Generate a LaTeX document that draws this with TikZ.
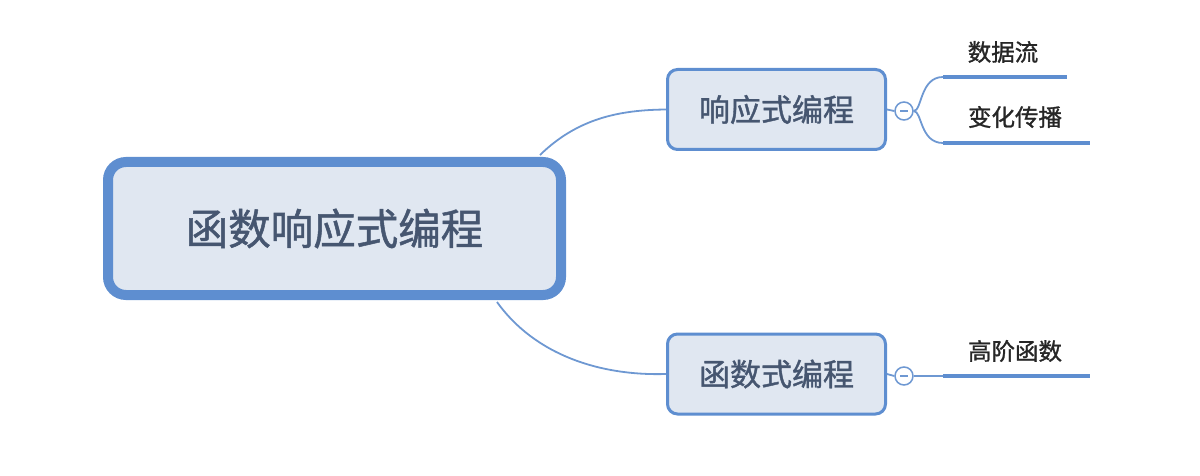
\documentclass[tikz,border=0pt]{standalone}
\usepackage{fontspec}
\newfontfamily\cjk[FakeBold=1.2]{Noto Sans CJK SC}
\definecolor{bord}{HTML}{5E8ED0}
\definecolor{fillc}{HTML}{E0E7F1}
\definecolor{txt}{HTML}{465670}
\definecolor{lnk}{HTML}{6E98D2}
\begin{document}
\begin{tikzpicture}[x=1pt,y=-1pt,
  mainbox/.style={draw=bord,fill=fillc,line width=10pt,rounded corners=18pt,minimum width=453pt,minimum height=133pt,inner sep=0pt,text=txt,font=\cjk\fontsize{42.5}{46}\selectfont},
  subbox/.style={draw=bord,fill=fillc,line width=3pt,rounded corners=10pt,minimum width=218pt,minimum height=80pt,inner sep=0pt,text=txt,font=\cjk\fontsize{31}{34}\selectfont},
  fold/.style={circle,draw=lnk,fill=white,line width=1.5pt,minimum size=18pt,inner sep=0pt},
  link/.style={draw=lnk,line width=1.8pt},
  leaf/.style={draw=bord,line width=4pt},
  leaftxt/.style={text=black!85,font=\cjk\fontsize{23.5}{26}\selectfont,inner sep=0pt}]
\useasboundingbox (0,0) rectangle (1200,476);
\node[mainbox] (main) at (334.5,228.5) {函数响应式编程};
\node[subbox] (n1) at (776.5,109.5) {响应式编程};
\node[subbox] (n2) at (776.5,374) {函数式编程};
\coordinate (m1) at (540,155);
\coordinate (m2) at (497,302);
\draw[link] (m1) .. controls (578,118) and (620,110) .. (n1.west);
\draw[link] (m2) .. controls (535,355) and (600,376) .. (n2.west);
\node[fold] (c1) at (904,111) {};
\node[fold] (c2) at (904,376) {};
\draw[link] (n1.east) -- (c1.west);
\draw[link] (n2.east) -- (c2.west);
\draw[lnk,line width=1.2pt] ([xshift=-4pt]c1.center) -- ([xshift=4pt]c1.center);
\draw[lnk,line width=1.2pt] ([xshift=-4pt]c2.center) -- ([xshift=4pt]c2.center);
\coordinate (a1) at (943,77);
\coordinate (b1) at (1067,77);
\coordinate (a2) at (943,143);
\coordinate (b2) at (1090,143);
\coordinate (a3) at (943,376);
\coordinate (b3) at (1090,376);
\draw[link] (c1.east) .. controls (922,111) and (920,77) .. (a1);
\draw[link] (c1.east) .. controls (922,111) and (920,143) .. (a2);
\draw[link] (c2.east) -- (a3);
\draw[leaf] (a1) -- (b1);
\draw[leaf] (a2) -- (b2);
\draw[leaf] (a3) -- (b3);
\node[leaftxt] (t1) at (1003,52) {数据流};
\node[leaftxt] (t2) at (1015,117) {变化传播};
\node[leaftxt] (t3) at (1015,351) {高阶函数};
\end{tikzpicture}
\end{document}
